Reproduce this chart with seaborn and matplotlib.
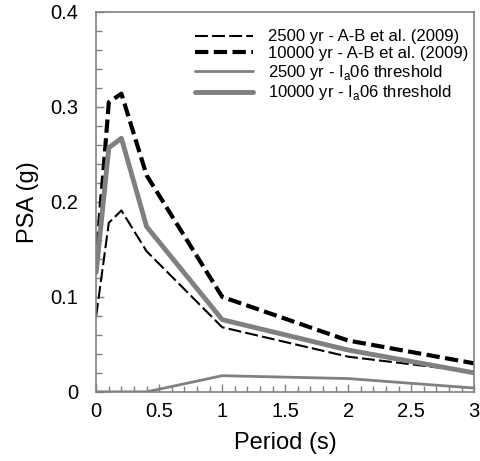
import matplotlib
matplotlib.use("Agg")
import matplotlib.pyplot as plt
import seaborn as sns
import numpy as np
from matplotlib.ticker import MultipleLocator

periods = [0, 0.1, 0.2, 0.4, 1, 2, 3]
ab_2500 = [0.080, 0.178, 0.191, 0.148, 0.068, 0.037, 0.021]
ab_10000 = [0.135, 0.305, 0.314, 0.228, 0.100, 0.054, 0.030]
ia_2500 = [0.0, 0.0, 0.0, 0.0, 0.017, 0.014, 0.004]
ia_10000 = [0.126, 0.257, 0.267, 0.174, 0.076, 0.044, 0.020]

labels = ["2500 yr - A-B et al. (2009)",
          "10000 yr - A-B et al. (2009)",
          "2500 yr - I$_\\mathregular{a}$06 threshold",
          "10000 yr - I$_\\mathregular{a}$06 threshold"]

sns.set_theme(style="white")
plt.rcParams['font.family'] = ['Liberation Sans', 'DejaVu Sans']
plt.rcParams['mathtext.fontset'] = 'custom'
plt.rcParams['mathtext.rm'] = 'Liberation Sans'
plt.rcParams['text.color'] = 'black'
plt.rcParams['axes.labelcolor'] = 'black'

fig = plt.figure(figsize=(4.81, 4.61), dpi=100)
ax = fig.add_axes([0.2, 0.15, 0.786, 0.824])

gray = "#808080"
sns.lineplot(x=periods, y=ab_2500, ax=ax, color="black", linewidth=1.5,
             linestyle=(0, (6.2, 2.0)), label=labels[0])
sns.lineplot(x=periods, y=ab_10000, ax=ax, color="black", linewidth=3.0,
             linestyle=(0, (3.2, 1.3)), label=labels[1])
sns.lineplot(x=periods, y=ia_2500, ax=ax, color=gray, linewidth=2.0,
             linestyle="-", label=labels[2])
sns.lineplot(x=periods, y=ia_10000, ax=ax, color=gray, linewidth=3.5,
             linestyle="-", label=labels[3])

ax.set_xlim(0, 3)
ax.set_ylim(0, 0.4)
ax.xaxis.set_minor_locator(MultipleLocator(0.1))
ax.yaxis.set_minor_locator(MultipleLocator(0.02))
ax.set_xticks([0, 0.5, 1, 1.5, 2, 2.5, 3])
ax.set_xticklabels(["0", "0.5", "1", "1.5", "2", "2.5", "3"])
ax.set_yticks([0, 0.1, 0.2, 0.3, 0.4])
ax.set_yticklabels(["0", "0.1", "0.2", "0.3", "0.4"])
ax.tick_params(axis="both", which="both", bottom=True, left=True,
               top=False, right=False, direction="in", color=gray, width=1)
ax.tick_params(axis="both", which="major", length=6,
               labelsize=14.5, labelcolor="black")
ax.tick_params(axis="x", which="major", pad=7)
ax.tick_params(axis="y", which="major", pad=13)
ax.tick_params(axis="both", which="minor", length=4)
for s in ax.spines.values():
    s.set_color(gray)
    s.set_linewidth(1.2)

ax.set_xlabel("Period (s)", fontsize=17, labelpad=8)
ax.set_ylabel("PSA (g)", fontsize=17, labelpad=8)

leg = ax.legend(loc="upper right", bbox_to_anchor=(1.015, 0.985),
                frameon=False, fontsize=12,
                handlelength=3.5, handletextpad=0.9, labelspacing=0.1,
                borderaxespad=0.5, borderpad=0.2)

fig.savefig("out.png", dpi=100)
